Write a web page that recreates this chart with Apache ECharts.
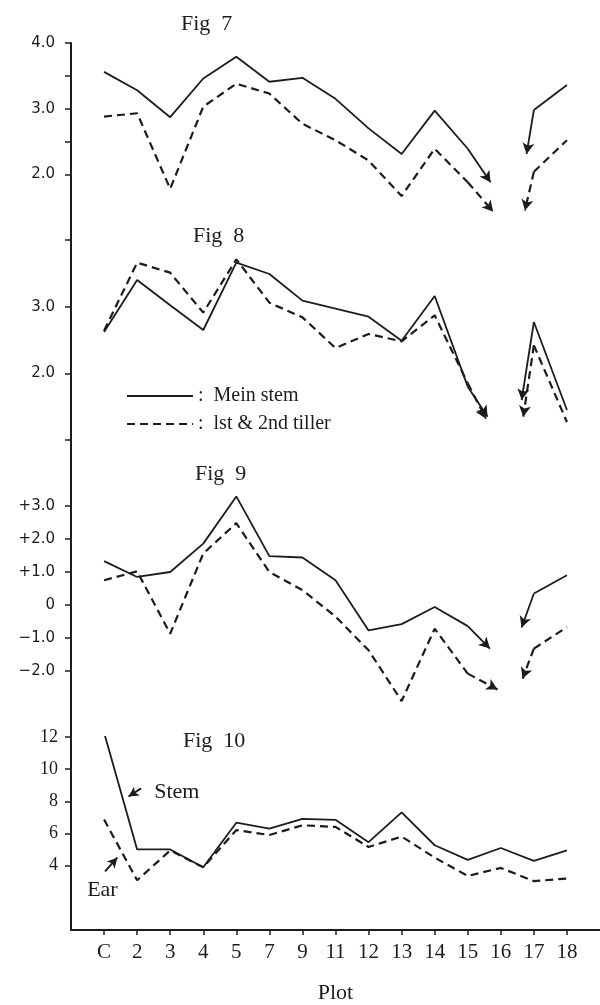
<!DOCTYPE html>
<html>
<head>
<meta charset="utf-8">
<script src="https://cdn.jsdelivr.net/npm/echarts@6.0.0/dist/echarts.min.js"></script>
<style>
  html, body { margin: 0; padding: 0; background: #fff; }
  #chart { width: 600px; height: 1005px; }
</style>
</head>
<body>
<div id="chart"></div>
<script>
// plot names along the shared x axis
const plots = ['C', '2', '3', '4', '5', '7', '9', '11', '12', '13', '14', '15', '16', '17', '18'];

// Fig 7
const fig7Stem = [3.56, 3.28, 2.87, 3.46, 3.79, 3.41, 3.47, 3.15, 2.70, 2.31, 2.97, 2.39, null, 2.98, 3.36];
const fig7Tiller = [2.88, 2.93, 1.78, 3.03, 3.38, 3.23, 2.77, 2.52, 2.21, 1.67, 2.39, 1.88, null, 2.04, 2.52];
const fig7StemTips = [[11.69, 1.88], [12.78, 2.31]];
const fig7TillerTips = [[11.77, 1.43], [12.73, 1.45]];

// Fig 8
const fig8Stem = [2.62, 3.40, 3.02, 2.65, 3.66, 3.49, 3.09, 2.97, 2.85, 2.49, 3.16, 1.80, null, 2.77, 1.45];
const fig8Tiller = [2.64, 3.66, 3.51, 2.91, 3.71, 3.06, 2.84, 2.38, 2.59, 2.48, 2.87, 1.85, null, 2.42, 1.27];
const fig8StemTips = [[11.6, 1.35], [12.63, 1.60]];
const fig8TillerTips = [[11.55, 1.32], [12.68, 1.35]];

// Fig 9
const fig9Stem = [1.33, 0.85, 1.00, 1.86, 3.29, 1.48, 1.44, 0.75, -0.77, -0.58, -0.06, -0.64, null, 0.35, 0.90];
const fig9Tiller = [0.75, 1.02, -0.87, 1.56, 2.48, 1.00, 0.45, -0.35, -1.37, -2.91, -0.72, -2.08, null, -1.32, -0.67];
const fig9StemTips = [[11.67, -1.32], [12.63, -0.68]];
const fig9TillerTips = [[11.9, -2.56], [12.66, -2.23]];

// Fig 10
const fig10Stem = [12.28, 5.01, 5.01, 3.90, 6.67, 6.31, 6.91, 6.85, 5.46, 7.31, 5.27, 4.36, 5.10, 4.30, 4.95];
const fig10Ear = [6.87, 3.09, 4.95, 3.90, 6.21, 5.91, 6.51, 6.41, 5.16, 5.81, 4.50, 3.36, 3.86, 3.04, 3.20];
const stemNote = [[1.12, 8.8], [0.74, 8.3]];
const earNote = [[0.03, 3.64], [0.40, 4.5]];

// y tick values per panel
const fig7Ticks = [2, 2.5, 3, 3.5, 4];
const fig7Labels = [2, 3, 4];
const fig8Ticks = [1, 2, 3, 4];
const fig8Labels = [2, 3];
const fig9Ticks = [-2, -1, 0, 1, 2, 3];
const fig10Ticks = [4, 6, 8, 10, 12];

const ink = '#1c1c1c';
const serif = 'Liberation Serif';

const toPairs = (arr) => arr.map((v, i) => [i, v == null ? '-' : v]);

const lineOf = (type) => ({
  color: ink,
  width: type === 'solid' ? 1.8 : 2.2,
  type: type === 'solid' ? 'solid' : [8, 5]
});

const arrows = (values, tips, type) => ({
  silent: true,
  symbol: ['none', 'arrow'],
  symbolSize: [9, 11],
  label: { show: false },
  emphasis: { disabled: true },
  lineStyle: lineOf(type),
  data: [
    [{ coord: [11, values[11]] }, { coord: tips[0] }],
    [{ coord: [13, values[13]] }, { coord: tips[1] }]
  ]
});

const makeLine = (name, idx, values, type, extra) => ({
  name,
  type: 'line',
  xAxisIndex: idx,
  yAxisIndex: idx,
  data: toPairs(values),
  showSymbol: false,
  symbol: 'none',
  connectNulls: false,
  lineStyle: lineOf(type),
  itemStyle: { color: ink },
  emphasis: { disabled: true },
  animation: false,
  ...extra
});

const grids = [
  { left: 71, width: 529, top: 43, height: 197 },
  { left: 71, width: 529, top: 240, height: 200 },
  { left: 71, width: 529, top: 440, height: 297 },
  { left: 71, width: 529, top: 737, height: 196 }
];

const xAxes = grids.map((g, i) => ({
  type: 'value',
  gridIndex: i,
  min: -1,
  max: 15,
  show: i === 3,
  splitLine: { show: false },
  axisLine: { show: true, onZero: false, lineStyle: { color: ink, width: 2 } },
  axisTick: { show: true, customValues: plots.map((p, j) => j), length: 5, lineStyle: { color: ink, width: 1.5 } },
  axisLabel: {
    customValues: plots.map((p, j) => j),
    formatter: (v) => plots[v],
    color: ink,
    fontFamily: serif,
    fontSize: 21,
    margin: 12
  },
  name: i === 3 ? 'Plot' : '',
  nameLocation: 'middle',
  nameGap: 52,
  nameTextStyle: { color: ink, fontFamily: serif, fontSize: 22 }
}));

const yBase = {
  type: 'value',
  splitLine: { show: false },
  axisLine: { show: true, onZero: false, lineStyle: { color: ink, width: 2 } },
  axisTick: { show: true, length: 6, lineStyle: { color: ink, width: 1.5 } }
};
const tickFont = { color: ink, fontFamily: 'DejaVu Sans', fontSize: 15, margin: 16 };

const yAxes = [
  { ...yBase, gridIndex: 0, min: 1, max: 4,
    axisTick: { ...yBase.axisTick, customValues: fig7Ticks },
    axisLabel: { ...tickFont, customValues: fig7Labels, formatter: (v) => v.toFixed(1) } },
  { ...yBase, gridIndex: 1, min: 1, max: 4,
    axisTick: { ...yBase.axisTick, customValues: fig8Ticks },
    axisLabel: { ...tickFont, customValues: fig8Labels, formatter: (v) => v.toFixed(1) } },
  { ...yBase, gridIndex: 2, min: -4, max: 5,
    axisTick: { ...yBase.axisTick, customValues: fig9Ticks },
    axisLabel: { ...tickFont, customValues: fig9Ticks,
      formatter: (v) => (v === 0 ? '0' : (v > 0 ? '+' : '\u2212') + Math.abs(v).toFixed(1)) } },
  { ...yBase, gridIndex: 3, min: 0, max: 12,
    axisTick: { ...yBase.axisTick, customValues: fig10Ticks },
    axisLabel: { ...tickFont, fontFamily: serif, fontSize: 18, margin: 13, customValues: fig10Ticks } }
];

const titleStyle = { color: ink, fontFamily: serif, fontSize: 22, fontWeight: 'normal' };

const noteArrow = (pts) => ({
  silent: true,
  symbol: ['none', 'arrow'],
  symbolSize: [8, 10],
  label: { show: false },
  emphasis: { disabled: true },
  lineStyle: { color: ink, width: 2, type: 'solid' },
  data: [[{ coord: pts[0] }, { coord: pts[1] }]]
});

const noteText = (coord, text, position) => ({
  silent: true,
  symbol: 'circle',
  symbolSize: 1,
  itemStyle: { color: 'transparent' },
  label: { show: true, position, distance: 0, color: ink, fontFamily: serif, fontSize: 22 },
  data: [{ coord, label: { formatter: text } }]
});

const option = {
  backgroundColor: '#fff',
  animation: false,
  title: [
    { text: 'Fig  7', left: 181, top: 13, padding: 0, textStyle: titleStyle },
    { text: 'Fig  8', left: 193, top: 225, padding: 0, textStyle: titleStyle },
    { text: 'Fig  9', left: 195, top: 463, padding: 0, textStyle: titleStyle },
    { text: 'Fig  10', left: 183, top: 730, padding: 0, textStyle: titleStyle }
  ],
  legend: {
    data: ['Mein stem', 'lst & 2nd tiller'],
    orient: 'vertical',
    left: 126,
    top: 386,
    padding: 0,
    itemWidth: 66,
    itemHeight: 14,
    itemGap: 8,
    selectedMode: false,
    itemStyle: { opacity: 0 },
    formatter: (name) => ':  ' + name,
    textStyle: { color: ink, fontFamily: serif, fontSize: 20 }
  },
  grid: grids,
  xAxis: xAxes,
  yAxis: yAxes,
  series: [
    makeLine('fig7 stem', 0, fig7Stem, 'solid', { markLine: arrows(fig7Stem, fig7StemTips, 'solid') }),
    makeLine('fig7 tiller', 0, fig7Tiller, 'dashed', { markLine: arrows(fig7Tiller, fig7TillerTips, 'dashed') }),
    makeLine('Mein stem', 1, fig8Stem, 'solid', { markLine: arrows(fig8Stem, fig8StemTips, 'solid') }),
    makeLine('lst & 2nd tiller', 1, fig8Tiller, 'dashed', { markLine: arrows(fig8Tiller, fig8TillerTips, 'dashed') }),
    makeLine('fig9 stem', 2, fig9Stem, 'solid', { markLine: arrows(fig9Stem, fig9StemTips, 'solid') }),
    makeLine('fig9 tiller', 2, fig9Tiller, 'dashed', { markLine: arrows(fig9Tiller, fig9TillerTips, 'dashed') }),
    makeLine('Stem', 3, fig10Stem, 'solid', {
      markLine: noteArrow(stemNote),
      markPoint: noteText([1.5, 8.55], 'Stem', 'right')
    }),
    makeLine('Ear', 3, fig10Ear, 'dashed', {
      markLine: noteArrow(earNote),
      markPoint: noteText([-0.05, 2.5], 'Ear', 'inside')
    })
  ]
};

const myChart = echarts.init(document.getElementById('chart'));
myChart.setOption(option);
</script>
</body>
</html>
